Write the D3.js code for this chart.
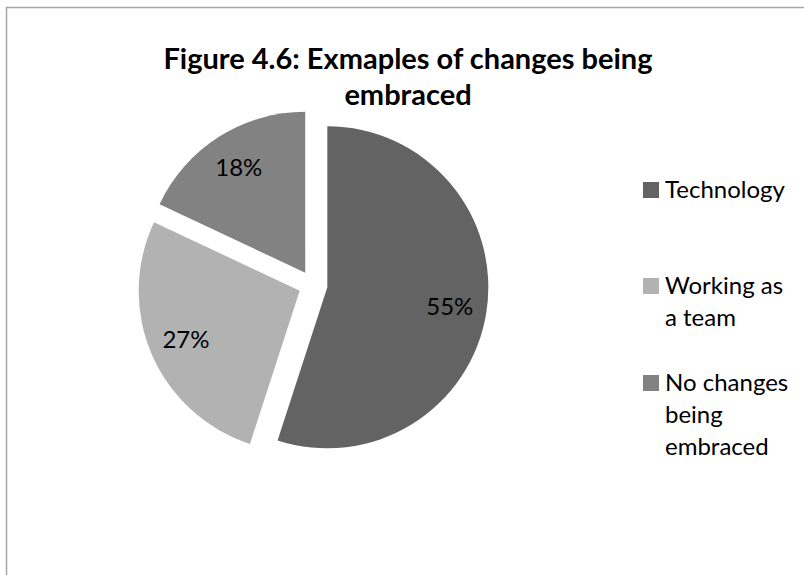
<!DOCTYPE html>
<html>
<head>
<meta charset="utf-8">
<script src="https://cdn.jsdelivr.net/npm/d3@7"></script>
<style>
  html, body { margin: 0; padding: 0; background: #fff; }
  svg { display: block; }
  text { font-family: Lato, "Open Sans", sans-serif; fill: #000; }
</style>
</head>
<body>
<svg id="chart" width="804" height="575"></svg>
<script>
// Survey answers: share of respondents per kind of change
const categories = ["Technology", "Working as a team", "No changes being embraced"];
const values = [55, 27, 18];
const sliceColors = ["#636363", "#b2b2b2", "#828282"];
const titleLines = ["Figure 4.6: Exmaples of changes being", "embraced"];

const svg = d3.select("#chart");

// chart frame (runs off the right and bottom edges)
svg.append("rect")
  .attr("x", 6.5).attr("y", 7.5)
  .attr("width", 1000).attr("height", 1000)
  .attr("fill", "#fff")
  .attr("stroke", "#a6a6a6")
  .attr("stroke-width", 1.5);

// title, centred over the whole chart frame
const title = svg.append("text")
  .attr("text-anchor", "middle")
  .attr("font-weight", 700)
  .attr("font-size", 29);
titleLines.forEach((line, i) => {
  title.append("tspan")
    .attr("x", 408)
    .attr("y", 69 + i * 36)
    .text(line);
});

// exploded pie
const cx = 313, cy = 285, radius = 161, explode = 14.5;
const color = d3.scaleOrdinal().domain(categories).range(sliceColors);

const pie = d3.pie().sort(null).value(d => d.value).startAngle(0).endAngle(2 * Math.PI);
const arcs = pie(categories.map((c, i) => ({ name: c, value: values[i] })));
const arc = d3.arc().innerRadius(0).outerRadius(radius);
const labelArc = d3.arc().innerRadius(radius * 0.77).outerRadius(radius * 0.77);

const g = svg.append("g").attr("transform", `translate(${cx},${cy})`);

const slice = g.selectAll("g.slice")
  .data(arcs)
  .join("g")
  .attr("class", "slice")
  .attr("transform", d => {
    const mid = (d.startAngle + d.endAngle) / 2;
    return `translate(${explode * Math.sin(mid)},${-explode * Math.cos(mid)})`;
  });

slice.append("path")
  .attr("d", arc)
  .attr("fill", d => color(d.data.name));

slice.append("text")
  .attr("transform", d => `translate(${labelArc.centroid(d)})`)
  .attr("text-anchor", "middle")
  .attr("dy", "0.35em")
  .attr("font-size", 24)
  .text(d => d.data.value + "%");

// legend with wrapped labels
const legend = svg.append("g").attr("transform", "translate(643,0)");
const legendTops = [182, 278, 375];
const maxWidth = 125, lineHeight = 32;

categories.forEach((name, i) => {
  const item = legend.append("g").attr("transform", `translate(0,${legendTops[i]})`);
  item.append("rect")
    .attr("x", 0).attr("y", 0)
    .attr("width", 16).attr("height", 16)
    .attr("fill", color(name));
  const t = item.append("text")
    .attr("font-size", 24);
  const words = name.split(" ");
  let lineNo = 0;
  let tspan = t.append("tspan").attr("x", 22).attr("y", 16);
  let current = [];
  words.forEach(w => {
    current.push(w);
    tspan.text(current.join(" "));
    if (tspan.node().getComputedTextLength() > maxWidth && current.length > 1) {
      current.pop();
      tspan.text(current.join(" "));
      current = [w];
      lineNo += 1;
      tspan = t.append("tspan").attr("x", 22).attr("y", 16 + lineNo * lineHeight).text(w);
    }
  });
});
</script>
</body>
</html>
